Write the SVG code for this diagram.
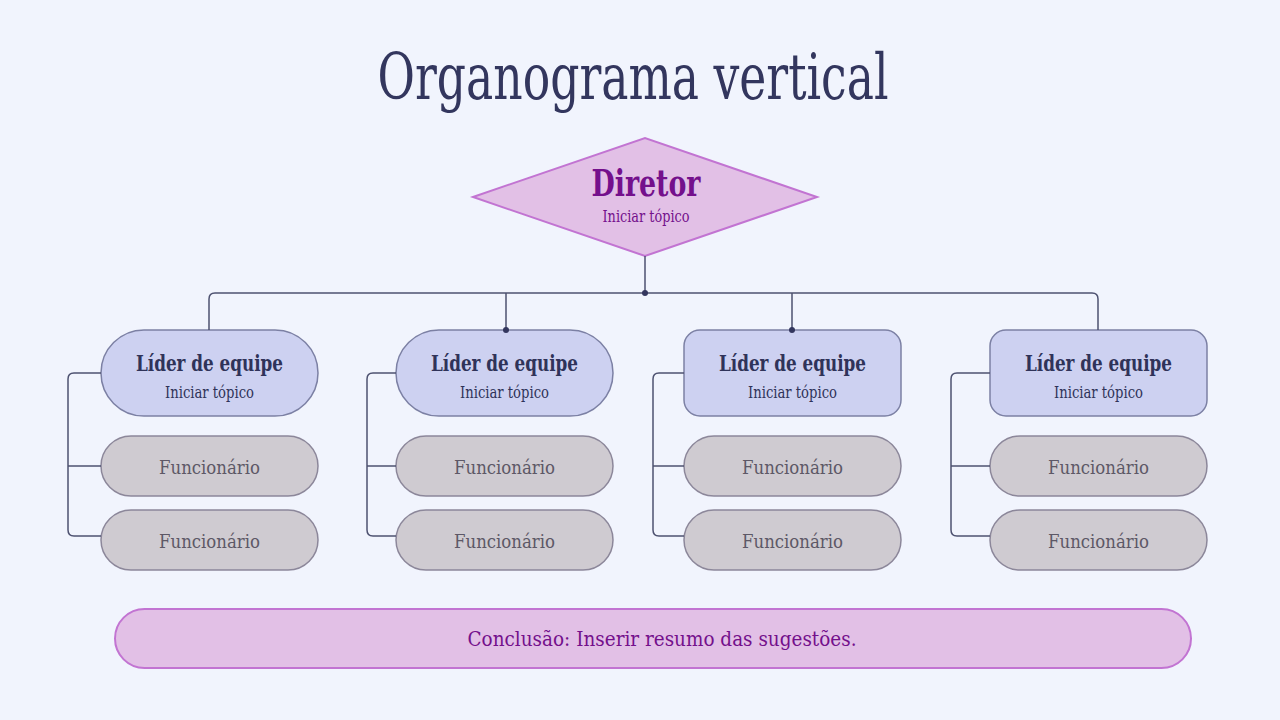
<svg xmlns="http://www.w3.org/2000/svg" width="1280" height="720" viewBox="0 0 1280 720">
<style>
text{font-family:"DejaVu Serif","Liberation Serif",serif;font-stretch:condensed;text-anchor:middle}
.title{font-size:64px;fill:#33365e}
.pink{fill:#e2c0e6;stroke:#c274d2;stroke-width:2}
.lead{fill:#cdd1f1;stroke:#7c80a4;stroke-width:1.5}
.emp{fill:#cfcbd1;stroke:#8c879a;stroke-width:1.5}
.lt{font-size:22px;font-weight:bold;fill:#2f3359}
.ls{font-size:16px;fill:#2f3359}
.et{font-size:19px;fill:#5d5866}
.pt{fill:#74108c}
.con{fill:none;stroke:#4d5170;stroke-width:1.5}
.dot{fill:#33365e}
</style>
<rect width="1280" height="720" fill="#f1f4fd"/>
<text class="title" x="633" y="99" textLength="511" lengthAdjust="spacingAndGlyphs">Organograma vertical</text>
<g id="diretor">
<polygon class="pink" points="473,197 645,138 817,197 645,256"/>
<text class="pt" x="646" y="196" font-size="37" font-weight="bold" textLength="109" lengthAdjust="spacingAndGlyphs">Diretor</text>
<text class="pt" x="646" y="222" font-size="16.5" textLength="87" lengthAdjust="spacingAndGlyphs">Iniciar tópico</text>
</g>
<g id="lider1">
<rect class="lead" x="101" y="330" width="217" height="86" rx="43"/>
<text class="lt" x="209.5" y="371" textLength="147" lengthAdjust="spacingAndGlyphs">Líder de equipe</text>
<text class="ls" x="209.5" y="398" textLength="89" lengthAdjust="spacingAndGlyphs">Iniciar tópico</text>
</g>
<g id="lider2">
<rect class="lead" x="396" y="330" width="217" height="86" rx="43"/>
<text class="lt" x="504.5" y="371" textLength="147" lengthAdjust="spacingAndGlyphs">Líder de equipe</text>
<text class="ls" x="504.5" y="398" textLength="89" lengthAdjust="spacingAndGlyphs">Iniciar tópico</text>
</g>
<g id="lider3">
<rect class="lead" x="684" y="330" width="217" height="86" rx="16"/>
<text class="lt" x="792.5" y="371" textLength="147" lengthAdjust="spacingAndGlyphs">Líder de equipe</text>
<text class="ls" x="792.5" y="398" textLength="89" lengthAdjust="spacingAndGlyphs">Iniciar tópico</text>
</g>
<g id="lider4">
<rect class="lead" x="990" y="330" width="217" height="86" rx="16"/>
<text class="lt" x="1098.5" y="371" textLength="147" lengthAdjust="spacingAndGlyphs">Líder de equipe</text>
<text class="ls" x="1098.5" y="398" textLength="89" lengthAdjust="spacingAndGlyphs">Iniciar tópico</text>
</g>
<g id="func1a"><rect class="emp" x="101" y="436" width="217" height="60" rx="30"/><text class="et" x="209.5" y="474" textLength="101" lengthAdjust="spacingAndGlyphs">Funcionário</text></g>
<g id="func1b"><rect class="emp" x="101" y="510" width="217" height="60" rx="30"/><text class="et" x="209.5" y="548" textLength="101" lengthAdjust="spacingAndGlyphs">Funcionário</text></g>
<g id="func2a"><rect class="emp" x="396" y="436" width="217" height="60" rx="30"/><text class="et" x="504.5" y="474" textLength="101" lengthAdjust="spacingAndGlyphs">Funcionário</text></g>
<g id="func2b"><rect class="emp" x="396" y="510" width="217" height="60" rx="30"/><text class="et" x="504.5" y="548" textLength="101" lengthAdjust="spacingAndGlyphs">Funcionário</text></g>
<g id="func3a"><rect class="emp" x="684" y="436" width="217" height="60" rx="30"/><text class="et" x="792.5" y="474" textLength="101" lengthAdjust="spacingAndGlyphs">Funcionário</text></g>
<g id="func3b"><rect class="emp" x="684" y="510" width="217" height="60" rx="30"/><text class="et" x="792.5" y="548" textLength="101" lengthAdjust="spacingAndGlyphs">Funcionário</text></g>
<g id="func4a"><rect class="emp" x="990" y="436" width="217" height="60" rx="30"/><text class="et" x="1098.5" y="474" textLength="101" lengthAdjust="spacingAndGlyphs">Funcionário</text></g>
<g id="func4b"><rect class="emp" x="990" y="510" width="217" height="60" rx="30"/><text class="et" x="1098.5" y="548" textLength="101" lengthAdjust="spacingAndGlyphs">Funcionário</text></g>
<g id="conclusao">
<rect class="pink" x="115" y="609" width="1076" height="59" rx="29.5"/>
<text class="pt" x="662" y="646" font-size="21" textLength="389" lengthAdjust="spacingAndGlyphs">Conclusão: Inserir resumo das sugestões.</text>
</g>
<g id="connectors">
<path class="con" d="M645 256V293"/>
<path class="con" d="M209 330V299Q209 293 215 293H1092Q1098 293 1098 299V330"/>
<path class="con" d="M506 293V330M792 293V330"/>
<circle class="dot" cx="645" cy="293" r="3"/>
<circle class="dot" cx="506" cy="330" r="3"/>
<circle class="dot" cx="792" cy="330" r="3"/>
<path class="con" d="M101 373H74Q68 373 68 379V530Q68 536 74 536H101M68 466H101"/>
<path class="con" d="M396 373H373Q367 373 367 379V530Q367 536 373 536H396M367 466H396"/>
<path class="con" d="M684 373H659Q653 373 653 379V530Q653 536 659 536H684M653 466H684"/>
<path class="con" d="M990 373H957Q951 373 951 379V530Q951 536 957 536H990M951 466H990"/>
</g>
</svg>
